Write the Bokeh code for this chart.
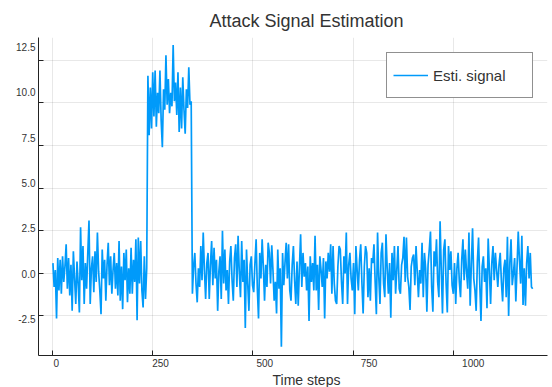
from bokeh.plotting import figure
from bokeh.models import (FixedTicker, NumeralTickFormatter, Range1d, Legend,
                          LegendItem, LinearAxis, Title)
from bokeh.embed import file_html
from bokeh.resources import INLINE

# time index (every 3rd step)
time_steps = list(range(1, 1200, 3))

signal_before = [
    0.6, -0.8, 0.2, -2.65, 0.9, -1.0, 0.8, -1.2, 1.0, -0.5,
    0.4, 1.7, -0.9, 0.9, -1.3, 0.5, -2.2, 1.3, -0.3, -1.8,
    0.7, -0.6, -2.3, 2.7, -0.4, 1.6, -1.8, 0.6, -0.9, 1.2,
    3.1, -1.8, 0.3, 1.0, -1.1, 1.3, -0.5, 2.4, 0.1, -1.0,
    -2.4, 1.4, -0.3, 0.8, -1.6, 0.5, 1.8, -0.7, 1.0, -1.2,
    0.2, 1.2, -0.9, 0.6, -1.3, 1.9, -1.6, 0.4, -2.1, 1.2,
    -0.4, 1.4, -1.7, 0.3, -1.2, 1.5, -1.2, 0.8, -0.5, 2.0,
    -2.75, 2.1, -0.6, 1.9, -1.0, -2.0, 1.0, -1.5, 0.3,
]

signal_attack = [
    11.6, 8.1, 10.9, 8.5, 11.8, 9.2, 11.9, 8.6, 10.6, 9.4,
    11.9, 9.0, 7.4, 10.8, 9.6, 12.8, 9.9, 11.4, 9.4, 10.6,
    9.8, 13.4, 10.1, 11.2, 9.3, 11.8, 8.3, 10.9, 8.5, 11.5,
    9.6, 8.2, 10.8, 9.7, 12.1, 9.9, 10.1,
]

signal_after = [
    -1.2, 0.4, 1.2, -0.6, -1.7, 0.3, -0.8, 1.6, -0.4, 2.4,
    0.2, -1.5, 0.6, 1.2, -1.5, 0.5, 1.9, -0.7, 1.5, -0.3,
    0.8, -2.2, 0.1, 1.0, -1.5, 2.5, -0.6, 1.4, -1.0, 0.2,
    -1.8, 0.7, 1.6, -0.4, -1.6, 0.9, 1.7, -0.8, 2.2, 0.1,
    -1.4, 1.9, -0.5, 0.8, -3.2, 1.4, -0.6, -2.2, 0.5, 1.0,
    -0.7, -1.1, 0.6, 2.0, -0.9, -2.65, 1.2, -0.3, 2.0, 0.4,
    -1.6, 0.5, -0.8, 1.8, 1.2, -0.6, 1.65, 0.2, -1.6, -0.5,
    -2.35, 1.4, -0.9, 0.3, -4.3, 1.2, -0.7, 0.6, 1.8, -0.3,
    1.7, -1.0, -1.6, 0.5, 1.6, -0.4, -1.8, 0.7, -1.9, 0.3,
    2.3, -0.8, 1.2, -0.2, 0.6, -1.0, 0.4, -2.8, 1.0, -0.5,
    0.6, -1.0, 2.2, -1.0, 0.5, -2.15, 1.0, 0.2, -0.8, 0.9,
    -2.65, 0.7, -0.3, 1.2, 0.1, 1.7, -1.2, 1.6, -0.6, -1.6,
    -1.8, 0.4, 1.6, 1.4, -0.5, -1.8, 1.0, 0.0, 2.4, -1.8,
    0.5, 1.2, -0.3, -1.0, 0.6, -2.4, 1.6, 0.2, -1.0, 0.8,
    1.7, -0.6, -2.35, 0.4, 1.6, 1.2, -1.4, 0.3, -1.6, 0.9,
    0.6, 1.7, -0.5, -2.4, 2.4, -0.2, -1.8, 1.2, 1.8, -0.6,
    -1.4, 2.3, 0.3, -1.2, 0.6, -2.6, 1.2, -0.4, 1.6, -1.2,
    0.2, 1.6, -0.9, -1.2, 0.5, 0.9, 2.15, -0.5, 2.1, -0.2,
    -0.8, -2.15, 0.4, 0.9, 1.1, -0.7, 1.6, 0.1, -1.4, 0.2,
    -0.6, 1.8, -1.4, 1.2, 0.3, -2.25, 0.5, 1.4, 2.45, -0.8,
    -2.25, 1.3, 0.4, 2.0, -0.5, -1.4, 3.05, 0.2, -2.35, 1.4,
    2.0, -0.6, -2.3, 1.6, 0.2, 1.3, -0.7, -1.2, 0.6, -1.8,
    0.3, 1.2, -0.5, -1.4, 0.8, 2.0, -0.4, 1.4, 0.1, -0.9,
    2.4, -1.9, 0.5, 2.65, -0.3, -1.0, -2.2, 0.7, 2.1, -0.6,
    -2.8, 0.4, 1.0, -0.5, 0.3, -2.05, 2.05, 0.2, -1.8, 0.6,
    1.6, -0.4, 1.2, 0.2, -0.8, 0.5, 1.2, -0.5, -1.65, 0.3,
    0.8, -1.4, 2.15, -2.5, 0.6, 2.0, -0.7, 0.0, 0.9, -1.65,
    0.4, 2.45, 0.8, -0.6, 2.2, -1.85, 0.3, -1.9, 0.6, 1.6,
    -0.3, 1.2, -0.8, -0.9,
]

signal = signal_before + signal_attack + signal_after

x_ticks = [0, 250, 500, 750, 1000]
y_ticks = [-2.5, 0.0, 2.5, 5.0, 7.5, 10.0, 12.5]

title_text = "Attack Signal Estimation"
x_label = "Time steps"
legend_label = "Esti. signal"

FONT = "Liberation Sans"
TEXT = "#333333"
AXIS = "#222222"

p = figure(width=552, height=387, output_backend="svg", toolbar_location=None,
           x_range=Range1d(-35, 1235), y_range=Range1d(-4.82, 13.84),
           min_border_left=38, min_border_right=5, min_border_top=37,
           min_border_bottom=0)

# the reference draws its tick texts on a slightly wider scale than its marks
p.extra_x_ranges = {"xtext": Range1d(-42.7, 1178.2)}
p.extra_y_ranges = {"ytext": Range1d(-4.524, 13.025)}

p.title.text = title_text
p.title.align = "left"
p.title.offset = 171
p.title.text_font = FONT
p.title.text_font_size = "18px"
p.title.text_font_style = "normal"
p.title.text_color = TEXT
p.title.standoff = 14

p.background_fill_color = "white"
p.border_fill_color = "white"
p.outline_line_color = None

line = p.line(time_steps, signal, line_color="#009AFA", line_width=1.7)

# axes carrying the spines and the inside tick marks (as unlabelled minor ticks)
xaxis = p.xaxis[0]
yaxis = p.yaxis[0]
xaxis.ticker = FixedTicker(ticks=[], minor_ticks=x_ticks)
yaxis.ticker = FixedTicker(ticks=[], minor_ticks=y_ticks)
for ax in (xaxis, yaxis):
    ax.axis_line_color = AXIS
    ax.major_tick_line_color = None
    ax.minor_tick_line_color = AXIS
    ax.minor_tick_in = 5
    ax.minor_tick_out = 0
    ax.major_tick_in = 0
    ax.major_tick_out = 0
    ax.major_label_standoff = 0

# axes carrying the tick texts
xtext = LinearAxis(x_range_name="xtext", ticker=FixedTicker(ticks=x_ticks))
ytext = LinearAxis(y_range_name="ytext", ticker=FixedTicker(ticks=y_ticks),
                   formatter=NumeralTickFormatter(format="0.0"))
for ax in (xtext, ytext):
    ax.axis_line_color = None
    ax.major_tick_line_color = None
    ax.minor_tick_line_color = None
    ax.major_tick_in = 0
    ax.major_tick_out = 0
    ax.major_label_text_font = FONT
    ax.major_label_text_font_size = "10px"
    ax.major_label_text_color = TEXT
xtext.major_label_standoff = 3
ytext.major_label_standoff = 3
p.add_layout(xtext, "below")
p.add_layout(ytext, "left")

p.add_layout(Title(text=x_label, align="left", offset=234,
                   text_font=FONT, text_font_size="14px",
                   text_font_style="normal", text_color=TEXT, standoff=0),
             "below")

p.xgrid.ticker = FixedTicker(ticks=x_ticks)
p.ygrid.ticker = FixedTicker(ticks=y_ticks)
p.grid.grid_line_color = "#000000"
p.grid.grid_line_alpha = 0.09
p.grid.grid_line_width = 1

legend = Legend(items=[LegendItem(label=legend_label, renderers=[line])],
                location=(348, 257))
legend.margin = 0
legend.padding = 6
legend.glyph_width = 35
legend.glyph_height = 32
legend.label_height = 32
legend.label_width = 93
legend.label_standoff = 5
legend.spacing = 0
legend.label_text_font = FONT
legend.label_text_font_size = "15px"
legend.label_text_color = TEXT
legend.border_line_color = AXIS
legend.border_line_width = 1
legend.background_fill_color = "white"
legend.background_fill_alpha = 1.0
p.add_layout(legend)

open("out.html", "w").write(file_html(p, INLINE))
